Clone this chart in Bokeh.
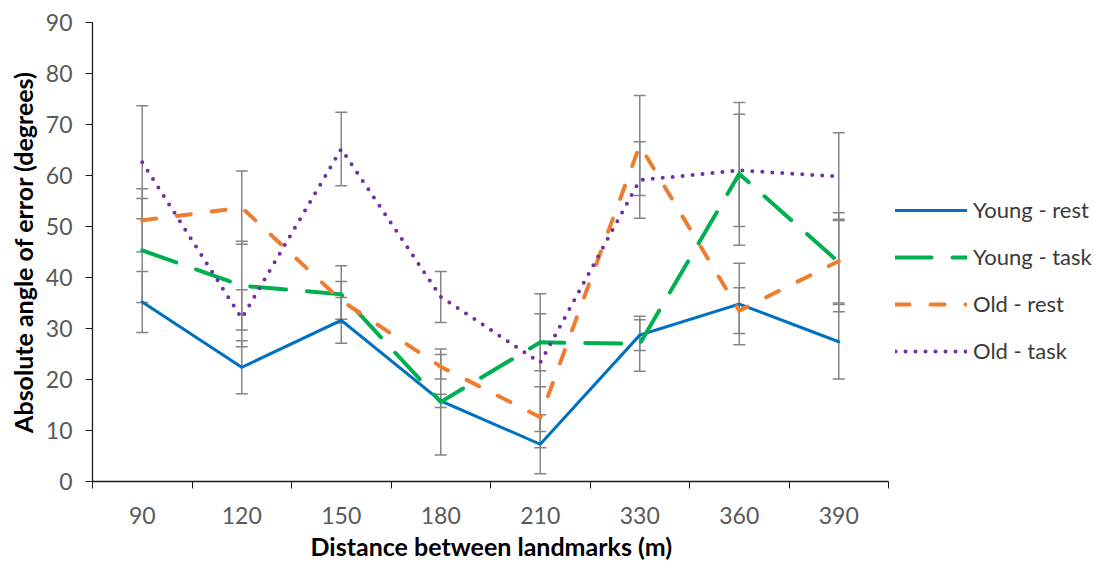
from bokeh.plotting import figure
from bokeh.models import ColumnDataSource, Whisker, TeeHead, FixedTicker, Legend, LegendItem, Range1d, Title
from bokeh.embed import file_html
from bokeh.resources import INLINE

# ---- data ----
categories = ["90", "120", "150", "180", "210", "330", "360", "390"]

young_rest = [35.2, 22.4, 31.6, 15.8, 7.3, 28.7, 34.8, 27.4]
young_rest_err = [6.0, 5.2, 4.5, 1.3, 5.8, 3.0, 8.0, 7.3]

young_task = [45.3, 38.4, 36.7, 15.6, 27.3, 27.0, 60.3, 43.0]
young_task_err = [10.2, 8.7, 5.6, 10.4, 5.6, 5.4, 14.0, 9.7]

old_rest = [51.2, 53.7, 35.5, 22.5, 12.6, 65.9, 33.5, 43.2]
old_rest_err = [6.2, 7.2, 3.7, 2.4, 6.0, 9.8, 4.5, 8.2]

old_task = [62.6, 32.0, 65.2, 36.2, 23.3, 59.1, 61.0, 59.8]
old_task_err = [11.1, 5.6, 7.2, 5.0, 13.5, 7.5, 11.0, 8.6]

y_ticks = [0, 10, 20, 30, 40, 50, 60, 70, 80, 90]

x_title = "Distance between landmarks (m)"
y_title = "Absolute angle of error (degrees)"

series = [
    ("Young - rest", young_rest, young_rest_err, "#0070C0", 3, "solid"),
    ("Young - task", young_task, young_task_err, "#00B050", 4, "36 21"),
    ("Old - rest", old_rest, old_rest_err, "#ED7D31", 4, "14 21"),
    ("Old - task", old_task, old_task_err, "#7030A0", 4, "0 10"),
]

FONT = "Lato"
W, H = 1094, 565
LEFT, TOP, BOTTOM, RIGHT = 92, 22, 84, 1
AXIS_W = 796  # pixel width of the categorical axis part of the frame
n = len(categories)
x_end = n * (W - LEFT - RIGHT) / AXIS_W

p = figure(width=W, height=H, output_backend="svg", toolbar_location=None,
           x_range=Range1d(0, x_end), y_range=Range1d(0, 90),
           min_border_left=LEFT, min_border_right=RIGHT, min_border_top=TOP,
           min_border_bottom=BOTTOM)
p.outline_line_color = None
p.xgrid.visible = False
p.ygrid.visible = False
p.background_fill_color = "white"
p.border_fill_color = "white"

xs = [i + 0.5 for i in range(n)]

# x axis: labels at centres, ticks at category boundaries
xa = p.xaxis[0]
xa.bounds = (0, n)
xa.ticker = FixedTicker(ticks=xs, minor_ticks=list(range(n + 1)))
xa.major_label_overrides = {x: c for x, c in zip(xs, categories)}
xa.major_tick_out = 0
xa.major_tick_in = 0
xa.minor_tick_out = 7
xa.minor_tick_in = 0
xa.minor_tick_line_color = "#1a1a1a"
xa.axis_line_color = "#1a1a1a"
xa.axis_line_width = 1.3
xa.major_label_text_font = FONT
xa.major_label_text_font_size = "23px"
xa.major_label_text_color = "#595959"
xa.major_label_standoff = 18

# x title centred under the category axis (not under the whole frame)
xt = Title(text=x_title, align="left", offset=218, standoff=5,
           text_font=FONT, text_font_size="25px", text_font_style="bold",
           text_color="#000000")
p.add_layout(xt, "below")

ya = p.yaxis[0]
ya.ticker = FixedTicker(ticks=y_ticks, minor_ticks=[])
ya.major_tick_out = 7
ya.major_tick_in = 0
ya.major_tick_line_color = "#1a1a1a"
ya.axis_line_color = "#1a1a1a"
ya.axis_line_width = 1.3
ya.major_label_text_font = FONT
ya.major_label_text_font_size = "23px"
ya.major_label_text_color = "#595959"
ya.major_label_standoff = 13
ya.axis_label = y_title
ya.axis_label_text_font = FONT
ya.axis_label_text_font_size = "25px"
ya.axis_label_text_font_style = "bold"
ya.axis_label_text_color = "#000000"
ya.axis_label_standoff = 5

ERR_COLOR = "#858585"
items = []
for name, vals, errs, color, lw, dash in series:
    src = ColumnDataSource(dict(
        x=xs,
        upper=[v + e for v, e in zip(vals, errs)],
        lower=[v - e for v, e in zip(vals, errs)],
    ))
    wk = Whisker(base="x", upper="upper", lower="lower", source=src,
                 line_color=ERR_COLOR, line_width=1.5, level="underlay",
                 upper_head=TeeHead(size=12, line_color=ERR_COLOR, line_width=1.5),
                 lower_head=TeeHead(size=12, line_color=ERR_COLOR, line_width=1.5))
    p.add_layout(wk)

for name, vals, errs, color, lw, dash in series:
    r = p.line(xs, vals, line_color=color, line_width=lw, line_dash=dash,
               line_cap="round", line_join="miter")
    items.append(LegendItem(label=name, renderers=[r]))

legend = Legend(items=items, location=(803, 117), orientation="vertical",
                glyph_width=72, glyph_height=26, label_height=26, spacing=20,
                padding=0, margin=0, border_line_color=None,
                background_fill_alpha=0, label_standoff=6,
                label_text_font=FONT, label_text_font_size="22px",
                label_text_color="#3a3a3a")
p.add_layout(legend)

open("out.html", "w").write(file_html(p, INLINE))
